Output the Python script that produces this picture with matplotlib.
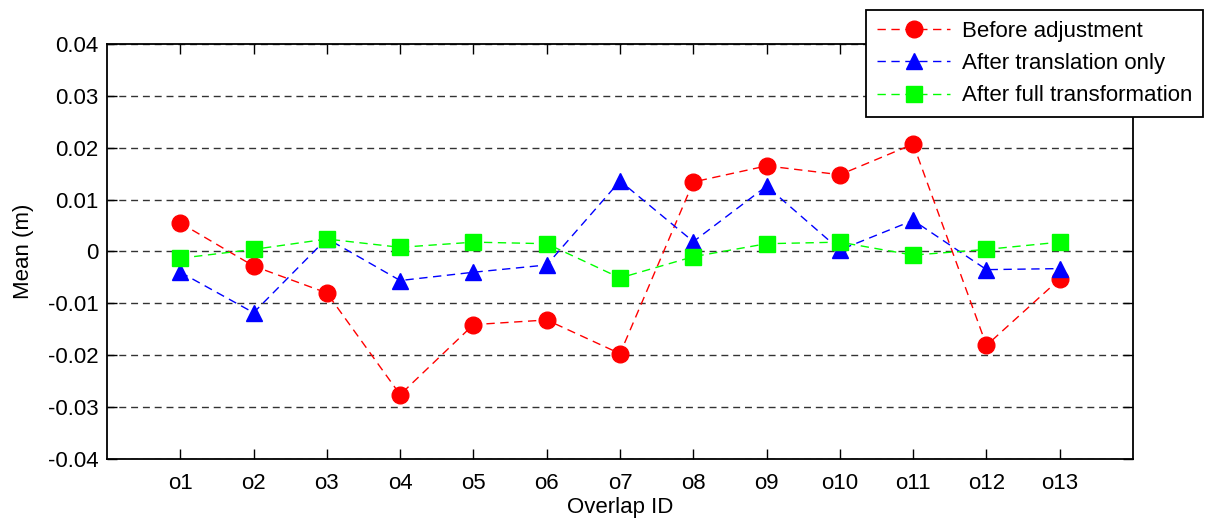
import matplotlib
matplotlib.use("Agg")
import matplotlib.pyplot as plt
import numpy as np

plt.rcParams['font.family'] = ['Liberation Sans', 'DejaVu Sans']

overlap_ids = ["o1", "o2", "o3", "o4", "o5", "o6", "o7", "o8", "o9", "o10", "o11", "o12", "o13"]

before_adjustment = [0.0055, -0.0028, -0.0080, -0.0276, -0.0141, -0.0132, -0.0197,
                     0.0134, 0.0165, 0.0148, 0.0207, -0.0181, -0.0053]
after_translation = [-0.0040, -0.0118, 0.0025, -0.0056, -0.0040, -0.0026, 0.0136,
                     0.0019, 0.0126, 0.0003, 0.0060, -0.0035, -0.0033]
after_full = [-0.0013, 0.0004, 0.0024, 0.0008, 0.0018, 0.0015, -0.0051,
              -0.0010, 0.0015, 0.0018, -0.0007, 0.0004, 0.0018]

yticks = [-0.04, -0.03, -0.02, -0.01, 0, 0.01, 0.02, 0.03, 0.04]
ytick_labels = ["-0.04", "-0.03", "-0.02", "-0.01", "0", "0.01", "0.02", "0.03", "0.04"]

x = np.arange(1, len(overlap_ids) + 1)

fig = plt.figure(figsize=(12.05, 5.23), dpi=100)
ax = fig.add_axes([0.0888, 0.1224, 0.8515, 0.7935])

line_kw = dict(linestyle=(0, (6, 4)), linewidth=1.0, markersize=12)
ax.plot(x, before_adjustment, color='#ff0000', marker='o', markeredgecolor='#ff0000',
        label="Before adjustment", **line_kw)
ax.plot(x, after_translation, color='#0000ff', marker='^', markeredgecolor='#0000ff',
        label="After translation only", **line_kw)
ax.plot(x, after_full, color='#00ff00', marker='s', markeredgecolor='#00ff00',
        label="After full transformation", **line_kw)

ax.set_xlim(0, 14)
ax.set_ylim(-0.04, 0.04)
ax.set_xticks(x)
ax.set_xticklabels(overlap_ids)
ax.set_yticks(yticks)
ax.set_yticklabels(ytick_labels)

# horizontal dashed grid only
ax.yaxis.grid(True, linestyle=(0, (5, 3.5)), color='#333333', linewidth=1.0)
ax.set_axisbelow(True)

ax.tick_params(direction='in', length=7, width=1, top=True, right=True,
               labelsize=16, pad=6, colors='black')
ax.tick_params(axis='x', pad=10)
for sp in ax.spines.values():
    sp.set_linewidth(1.3)
    sp.set_color('black')

ax.set_xlabel("Overlap ID", fontsize=16, labelpad=2)
ax.set_ylabel("Mean (m)", fontsize=16, labelpad=10)

leg = ax.legend(loc='upper right', bbox_to_anchor=(1203 / 1205, 1 - 10 / 523),
                bbox_transform=fig.transFigure, fontsize=16, frameon=True,
                fancybox=False, edgecolor='black', framealpha=1,
                handlelength=3.3, labelspacing=0.5, borderaxespad=0,
                borderpad=0.5, handletextpad=0.5, markerscale=1.0)
leg.get_frame().set_linewidth(1.3)

fig.savefig("out.png", dpi=100)
